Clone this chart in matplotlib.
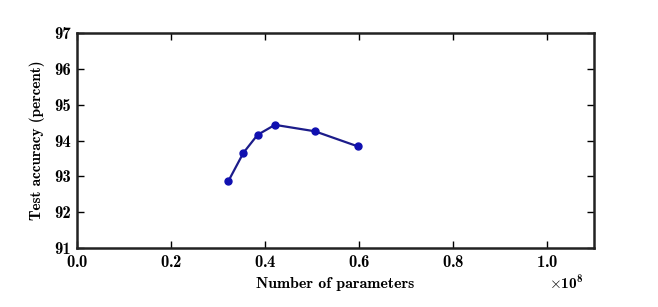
import matplotlib.pyplot as plt
from matplotlib.ticker import ScalarFormatter

# number of parameters and test accuracy
params = [3.22e7, 3.54e7, 3.84e7, 4.21e7, 5.06e7, 5.97e7]
accuracy = [92.87, 93.66, 94.16, 94.44, 94.26, 93.84]

plt.rcParams['font.family'] = ['cmb10', 'DejaVu Serif']
plt.rcParams['mathtext.fontset'] = 'cm'
plt.rcParams['axes.unicode_minus'] = False
plt.rcParams['font.size'] = 12

fig = plt.figure(figsize=(6.58, 3.07), dpi=100)
ax = fig.add_axes([0.117, 0.192, 0.786, 0.700])

ax.plot(params, accuracy, color='#1c1c8a', linewidth=1.6,
        marker='o', markersize=5, markerfacecolor='#1010b0',
        markeredgecolor='#1010b0')

ax.set_xlim(0, 1.1e8)
ax.set_ylim(91, 97)
ax.set_xticks([0, 0.2e8, 0.4e8, 0.6e8, 0.8e8, 1.0e8])
ax.set_yticks(range(91, 98))

fmt = ScalarFormatter(useMathText=True)
fmt.set_powerlimits((0, 0))
ax.xaxis.set_major_formatter(fmt)
off = ax.xaxis.get_offset_text()
off.set_fontsize(11)
off.set_x(0.98)

ax.tick_params(direction='in', top=True, right=True, length=5, width=1,
               labelsize=12, pad=4)
for sp in ax.spines.values():
    sp.set_linewidth(1.8)
    sp.set_color('#222222')

ax.set_xlabel('Number of parameters', fontsize=11.4, labelpad=5)
ax.set_ylabel('Test accuracy (percent)', fontsize=11, labelpad=7)

fig.savefig('out.png', dpi=100)
